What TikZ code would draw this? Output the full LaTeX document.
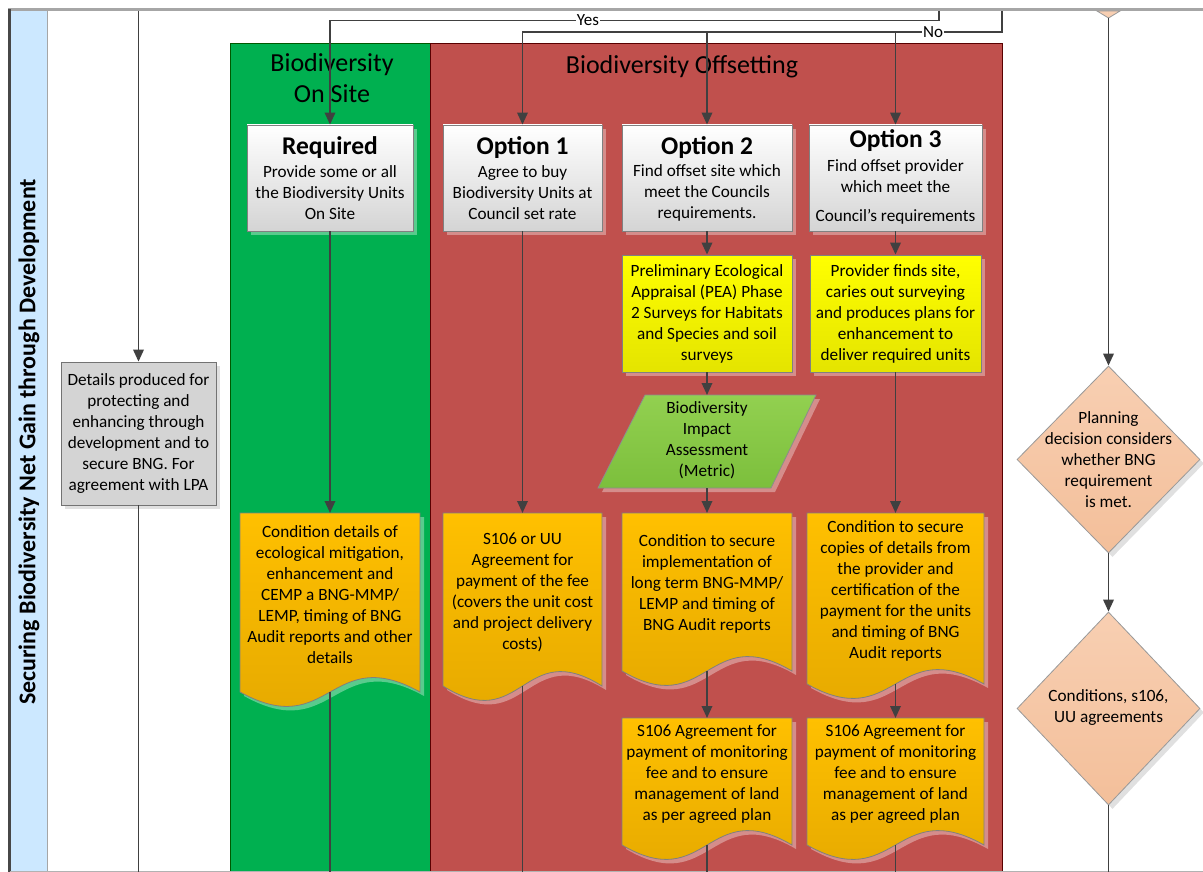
\documentclass[tikz,border=0pt]{standalone}
\usepackage{fontspec}
\setmainfont{Carlito}
\usetikzlibrary{arrows.meta,shapes.geometric,shadows,calc}
\definecolor{lineC}{HTML}{404040}
\definecolor{greenL}{HTML}{00B050}
\definecolor{redL}{HTML}{C0504D}
\definecolor{blueH}{HTML}{CCE8FF}
\definecolor{optBot}{HTML}{D4D4D4}
\definecolor{yelTop}{HTML}{FFFF00}
\definecolor{yelBot}{HTML}{E4E400}
\definecolor{orTop}{HTML}{FFC000}
\definecolor{orBot}{HTML}{E3A700}
\definecolor{grayBox}{HTML}{D4D4D4}
\definecolor{peach}{HTML}{F8CFB2}
\definecolor{peachB}{HTML}{F3BF9A}
\definecolor{parTop}{HTML}{92D050}
\definecolor{parBot}{HTML}{7CBF3C}
\tikzset{
  shadowW/.style={drop shadow={shadow xshift=4pt,shadow yshift=-4pt,fill=white,opacity=0.35}},
  shadowG/.style={drop shadow={shadow xshift=4pt,shadow yshift=-4pt,fill=black,opacity=0.12}},
  optbox/.style={rectangle,draw=black!50,line width=0.8pt,top color=white,bottom color=optBot,inner sep=0,shadowW},
  yelbox/.style={rectangle,draw=black!50,line width=0.8pt,top color=yelTop,bottom color=yelBot,inner sep=0,shadowW},
  graybox/.style={rectangle,draw=black!55,line width=0.8pt,fill=grayBox,inner sep=0,shadowG},
  docstyle/.style={draw=black!50,line width=0.8pt,top color=orTop,bottom color=orBot,shadowW},
  parstyle/.style={draw=black!45,line width=0.8pt,top color=parTop,bottom color=parBot,shadowW},
  diam/.style={diamond,draw=black!40,line width=0.8pt,top color=peach,bottom color=peachB,inner sep=0,shadowG},
  frame/.style={rectangle,inner sep=0,outer sep=0,draw=none},
  body/.style={inner sep=0,align=center,font=\fontsize{17.2}{21}\selectfont},
  ttl/.style={inner sep=0,align=center,font=\fontsize{25.5}{30}\selectfont\bfseries},
  lanettl/.style={inner sep=0,align=center,font=\fontsize{26}{31}\selectfont},
  conn/.style={draw=lineC,line width=1.8pt},
  arr/.style={conn,-{Triangle[length=12pt,width=10.5pt]}},
  lbl/.style={fill=white,inner sep=1pt,font=\fontsize{17}{20}\selectfont},
}
\newcommand{\rbox}[6]{%
  \node[#2,minimum width={#5-#3},minimum height={#6-#4}] (#1) at ({(#3+#5)/2},{(#4+#6)/2}) {};}
\newcommand{\docbox}[7]{%
  \path[docstyle] (#2,#3) -- (#4,#3) -- (#4,#5) .. controls ({(#2+#4)/2},{#5-50}) and ({(#2+#4)/2},{#5+50}) .. (#2,#5) -- cycle;
  \node[frame,minimum width={#4-#2},minimum height={#5-#3}] (#1) at ({(#2+#4)/2},{(#3+#5)/2}) {};
  \node[body] (#1t) at ({(#2+#4)/2},#6) {#7};}
\begin{document}
\begin{tikzpicture}[x=1pt,y=-1pt]
\useasboundingbox (0,0) rectangle (1203,872);
\fill[white] (0,0) rectangle (1203,872);
% pool and lanes
\fill[blueH] (10,10) rectangle (47,872);
\draw[black!35,line width=1pt] (47.5,10) -- (47.5,872);
\path[fill=greenL,draw=green!35!black,line width=1pt] (230,44) rectangle (430,874);
\path[fill=redL,draw=red!35!black,line width=1pt] (430,44) rectangle (1002,874);
\draw[black!35,line width=3pt] (8,10) -- (1203,10);
\draw[black!72,line width=3pt] (9,9) -- (9,872);
\draw[black!30,line width=1pt] (10,871) -- (1203,871);
\node[inner sep=0,rotate=90,font=\fontsize{24}{28}\selectfont\bfseries] (pooltitle) at (29,442) {Securing Biodiversity Net Gain through Development};
\node[lanettl] (greenttl) at (332,78) {Biodiversity\\On Site};
\node[lanettl] (redttl) at (682,66.5) {Biodiversity Offsetting};
% top diamond tip
\path[fill=peach,draw=black!40,line width=0.8pt] (1097,11) -- (1120,11) -- (1108.5,18) -- cycle;
\coordinate (dtop) at (1108.5,18);
% left lane
\rbox{det}{graybox}{61}{362}{216}{505}
\node[body] (dett) at (138.5,433.5) {Details produced for\\protecting and\\enhancing through\\development and to\\secure BNG. For\\agreement with LPA};
% option boxes
\rbox{req}{optbox}{247}{125}{413}{231}
\node[ttl] (reqh) at (330,148) {Required};
\node[body] (reqt) at (330,193) {Provide some or all\\the Biodiversity Units\\On Site};
\rbox{opt1}{optbox}{443}{125}{602}{231}
\node[ttl] (opt1h) at (522.5,148) {Option 1};
\node[body] (opt1t) at (522.5,193) {Agree to buy\\Biodiversity Units at\\Council set rate};
\rbox{opt2}{optbox}{622}{125}{792}{231}
\node[ttl] (opt2h) at (707,148) {Option 2};
\node[body] (opt2t) at (707,193) {Find offset site which\\meet the Councils\\requirements.};
\rbox{opt3}{optbox}{809}{125}{982}{231}
\node[ttl] (opt3h) at (895.5,141) {Option 3};
\node[body] (opt3t) at (895.5,192) {Find offset provider\\which meet the\\[8pt]Council’s requirements};
% yellow boxes
\rbox{pea}{yelbox}{622}{255}{792}{372}
\node[body] (peat) at (707,313.5) {Preliminary Ecological\\Appraisal (PEA) Phase\\2 Surveys for Habitats\\and Species and soil\\surveys};
\rbox{prov}{yelbox}{810}{255}{981}{372}
\node[body] (provt) at (895.5,313.5) {Provider finds site,\\caries out surveying\\and produces plans for\\enhancement to\\deliver required units};
% parallelogram
\path[parstyle] (645,395) -- (816,395) -- (771,488) -- (598,488) -- cycle;
\node[frame,minimum width=170,minimum height=93] (bia) at (707,441.5) {};
\node[body] (biat) at (707,440.5) {Biodiversity\\Impact\\Assessment\\(Metric)};
% document boxes
\docbox{cond1}{240}{513}{420}{692}{594.5}{Condition details of\\ecological mitigation,\\enhancement and\\CEMP a BNG-MMP/\\LEMP, timing of BNG\\Audit reports and other\\details}
\docbox{suu}{443}{513}{602}{686}{592.5}{S106 or UU\\Agreement for\\payment of the fee\\(covers the unit cost\\and project delivery\\costs)}
\docbox{cimp}{622}{513}{792}{671}{584}{Condition to secure\\implementation of\\long term BNG-MMP/\\LEMP and timing of\\BNG Audit reports}
\docbox{ccop}{807}{513}{984}{684}{591}{Condition to secure\\copies of details from\\the provider and\\certification of the\\payment for the units\\and timing of BNG\\Audit reports}
\docbox{sa}{622}{718}{792}{845}{774.5}{S106 Agreement for\\payment of monitoring\\fee and to ensure\\management of land\\as per agreed plan}
\docbox{sb}{807}{718}{984}{845}{774.5}{S106 Agreement for\\payment of monitoring\\fee and to ensure\\management of land\\as per agreed plan}
% diamonds
\node[diam,minimum width=183,minimum height=187] (plan) at (1108.5,459.5) {};
\node[body] (plant) at (1108.5,460) {Planning\\decision considers\\whether BNG\\requirement\\is met.};
\node[diam,minimum width=183,minimum height=193] (cond) at (1108.5,708.5) {};
\node[body] (condt) at (1108.5,708) {Conditions, s106,\\UU agreements};
% connector end points
\coordinate (topL) at (138.5,11);
\coordinate (yesT) at (939,11);
\coordinate (noT) at (1002,11);
\coordinate (j2) at (707,32);
\coordinate (j3) at (895.5,32);
\coordinate (b1) at (138.5,872);
\coordinate (b2) at (330,872);
\coordinate (b3) at (522.5,872);
\coordinate (b4) at (707,872);
\coordinate (b5) at (895.5,872);
\coordinate (b6) at (1108.5,872);
% connectors
\draw[arr] (topL) -- (det.north);
\draw[conn] (det.south) -- (b1);
\draw[arr] (yesT) -- ++(0,9.5) -| (req.north);
\draw[arr] (noT) -- ++(0,21) -| (opt1.north);
\draw[arr] (j2) -- (opt2.north);
\draw[arr] (j3) -- (opt3.north);
\node[lbl] (yesl) at (588,20.5) {Yes};
\node[lbl] (nol) at (933,32) {No};
\draw[arr] (req.south) -- (cond1.north);
\draw[conn] (cond1.south) -- (b2);
\draw[arr] (opt1.south) -- (suu.north);
\draw[conn] (suu.south) -- (b3);
\draw[arr] (opt2.south) -- (pea.north);
\draw[arr] (pea.south) -- (bia.north);
\draw[arr] (bia.south) -- (cimp.north);
\draw[arr] (cimp.south) -- (sa.north);
\draw[conn] (sa.south) -- (b4);
\draw[arr] (opt3.south) -- (prov.north);
\draw[arr] (prov.south) -- (ccop.north);
\draw[arr] (ccop.south) -- (sb.north);
\draw[conn] (sb.south) -- (b5);
\draw[arr] (dtop) -- (plan.north);
\draw[arr] (plan.south) -- (cond.north);
\draw[conn] (cond.south) -- (b6);
\end{tikzpicture}
\end{document}
